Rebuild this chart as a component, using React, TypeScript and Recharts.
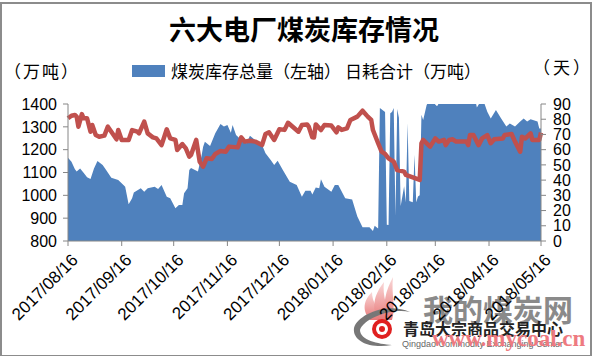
import { ComposedChart, Area, Line, XAxis, YAxis } from "recharts";

const stockDays = [0,2,4,5,7,9,11,13,15,17,20,22,25,29,32,33,35,37,38,42,44,46,50,52,54,57,59,62,64,66,67,69,70,71,75,77,78,79,82,85,88,90,92,94,95,97,100,103,105,108,112,114,117,119,121,124,128,132,135,137,140,141,143,145,146,148,152,154,156,160,164,167,170,174,176,177,179,180,183,184,185,186,187,188,189,190,191,192,194,195,196,197,199,200,201,202,203,204,205,207,209,211,213,215,219,225,230,235,236,238,240,242,244,247,250,253,255,258,261,263,265,267,271,272,273];
const stockValues = [1165,1147,1114,1104,1118,1099,1079,1072,1118,1150,1133,1111,1077,1067,1045,1038,961,987,1012,1031,1016,1031,1038,1028,1045,994,987,943,958,958,1009,1031,1111,1120,1104,1170,1213,1235,1216,1272,1312,1301,1308,1274,1308,1264,1242,1228,1261,1242,1220,1184,1155,1133,1152,1111,1060,1045,994,1020,1020,1004,1034,1031,1070,1038,1016,1045,1045,987,982,907,860,860,844,867,855,1382,1365,871,870,1360,1365,1382,909,1378,1340,953,1040,970,1317,975,970,1178,970,995,1000,1353,1330,1396,1420,1405,1390,1415,1430,1425,1430,1420,1385,1410,1410,1366,1337,1374,1337,1301,1315,1301,1323,1337,1323,1333,1323,1293,1293];

const dailyDays = [0,2,4,5,6,8,9,11,13,14,16,18,21,23,25,28,29,31,35,37,40,41,44,46,49,51,54,57,59,62,63,66,68,70,71,74,76,78,80,83,85,88,91,93,98,100,102,105,108,112,114,116,119,122,125,127,130,133,135,138,139,141,142,143,146,148,152,155,156,158,161,163,167,170,173,175,176,179,181,183,185,188,190,194,195,199,203,204,205,207,209,212,214,217,218,220,222,224,230,231,232,234,237,239,242,244,246,251,252,256,258,261,262,264,267,268,272,273];
const dailyValues = [80.6,82.3,82.8,81.7,75.1,83.4,80.6,80.6,71.8,76.2,69.6,68.5,69.2,75.1,71.8,66.8,72.9,66.4,66.4,72.9,71.8,70.7,78.4,70.7,68.1,67.4,63,73.4,67.4,66.4,59.8,63.7,60.8,55.4,56.5,66.4,52.1,48.8,54.3,53.9,57.2,59.1,58.7,62,61.5,68.1,65.3,65.9,65.3,63,70.3,71.4,66.4,73.4,73,77.7,74.7,71.8,76.2,76.6,75,68.1,68,76.6,72.9,76.2,75.8,71.4,74.7,73,74,79.5,81.7,85.6,81.7,79.5,72.9,64.2,58.7,57.2,54.3,52.1,46.6,45.6,43.4,41.8,40.1,64.2,66.4,64.2,62,67.4,65.3,66.4,63,66.4,66.8,65.3,65.3,63,69.6,69.6,63,67.4,69.6,64.2,66.8,67.4,69.6,70.3,65.3,58.7,68.5,67.4,70.7,66.4,66.4,71.2];

const tickDays = [0,31,61,92,122,153,184,212,243,273];
const tickLabels = ["2017/08/16","2017/09/16","2017/10/16","2017/11/16","2017/12/16","2018/01/16","2018/02/16","2018/03/16","2018/04/16","2018/05/16"];
const leftTicks = [800,900,1000,1100,1200,1300,1400];
const rightTicks = [0,10,20,30,40,50,60,70,80,90];

const allDays = Array.from(new Set([...stockDays, ...dailyDays])).sort((a, b) => a - b);
const rows = allDays.map((day) => {
  const s = stockDays.indexOf(day);
  const d = dailyDays.indexOf(day);
  return { day, stock: s >= 0 ? stockValues[s] : null, daily: d >= 0 ? dailyValues[d] : null };
});

const SANS = '"Liberation Sans", Arial, sans-serif';
const CJK = '"Noto Sans CJK SC", sans-serif';
const AXIS = "#868686";

function DateTick({ x, y, payload }: any) {
  const i = tickDays.indexOf(payload.value);
  return (
    <text x={x + 11} y={y + 13} transform={`rotate(-45 ${x + 11} ${y + 13})`} textAnchor="end" fontFamily={SANS} fontSize={17} fill="#000">
      {tickLabels[i]}
    </text>
  );
}

function Watermark() {
  return (
    <svg width={594} height={356} style={{ position: "absolute", left: 0, top: 0 }}>
      <defs>
        <linearGradient id="flame" x1="0" y1="0" x2="0" y2="1">
          <stop offset="0%" stopColor="#f9d8d8" />
          <stop offset="100%" stopColor="#e87878" />
        </linearGradient>
      </defs>
      <path d="M370 320 C360 308 366 298 372 292 C372 302 378 308 381 320 Z" fill="url(#flame)" />
      <path d="M378 320 C370 306 376 292 384 282 C382 296 388 306 388 320 Z" fill="url(#flame)" />
      <path d="M386 320 C382 304 386 290 393 277 C391 294 396 306 392 320 Z" fill="url(#flame)" />
      <circle cx="382" cy="329" r="10" fill="#e02020" />
      <circle cx="382" cy="329" r="6" fill="#fff" />
      <circle cx="382" cy="329" r="3" fill="#e02020" />
      <path d="M354 328 C358 314 388 302 410 312 C392 308 364 318 360 330 C360 340 378 344 392 345 C372 349 352 342 354 328 Z" fill="#777" />
      <text x={423} y={321} fontFamily={CJK} fontSize={30} fontWeight={700} fill="#8a8a8a">我的煤炭网</text>
      <text x={403} y={335} fontFamily={CJK} fontSize={16} fontWeight={700} fill="#222">青岛大宗商品交易中心</text>
      <text x={402} y={347} fontFamily={SANS} fontSize={9} fill="#666">Qingdao Commodity Exchanging Center</text>
      <text x={432} y={346} fontFamily={'"Liberation Serif", serif'} fontSize={23} fontWeight={700} fill="#ee7a80">www.mycoal.cn</text>
    </svg>
  );
}

export default function App() {
  return (
    <div style={{ position: "absolute", left: 0, top: 0, width: 594, height: 356, background: "#fff" }}>
      <div style={{ position: "absolute", left: 0, top: 2, width: 588, height: 351, border: "2px solid #8c8c8c" }} />
      <Watermark />
      <div style={{ position: "absolute", left: 0, top: 0 }}>
        <ComposedChart width={594} height={356} data={rows} margin={{ top: 104, right: 0, bottom: 0, left: 0 }}>
          <XAxis
            dataKey="day"
            type="number"
            domain={[0, 273]}
            ticks={tickDays}
            interval={0}
            height={115}
            stroke={AXIS}
            tickSize={5}
            tick={DateTick}
          />
          <YAxis
            yAxisId="left"
            width={68}
            domain={[800, 1400]}
            ticks={leftTicks}
            allowDataOverflow
            interval={0}
            stroke={AXIS}
            tickSize={5}
            tickMargin={6}
            tick={{ fontFamily: SANS, fontSize: 16, fill: "#000" }}
          />
          <YAxis
            yAxisId="right"
            orientation="right"
            width={53}
            domain={[0, 90]}
            ticks={rightTicks}
            interval={0}
            stroke={AXIS}
            tickSize={5}
            tickMargin={7}
            tick={{ fontFamily: SANS, fontSize: 16, fill: "#000" }}
          />
          <Area
            yAxisId="left"
            dataKey="stock"
            type="linear"
            fill="#4F81BD"
            fillOpacity={1}
            stroke="none"
            connectNulls
            isAnimationActive={false}
          />
          <Line
            yAxisId="right"
            dataKey="daily"
            type="linear"
            stroke="#C0504D"
            strokeWidth={4.5}
            strokeLinejoin="round"
            dot={false}
            connectNulls
            isAnimationActive={false}
          />
          <text x={304} y={40} textAnchor="middle" fontFamily={CJK} fontSize={27} fontWeight={700} fill="#000">六大电厂煤炭库存情况</text>
          <text x={4} y={78} letterSpacing={2} fontFamily={CJK} fontSize={17} fill="#000">（万吨）</text>
          <text x={533} y={74} letterSpacing={3} fontFamily={CJK} fontSize={17} fill="#000">（天）</text>
          <rect x={132} y={65} width={33} height={12} fill="#4F81BD" />
          <text x={171} y={78} fontFamily={CJK} fontSize={17} fill="#000">煤炭库存总量（左轴）</text>
          <text x={345} y={78} fontFamily={CJK} fontSize={17} fill="#000">日耗合计（万吨）</text>
        </ComposedChart>
      </div>
    </div>
  );
}
